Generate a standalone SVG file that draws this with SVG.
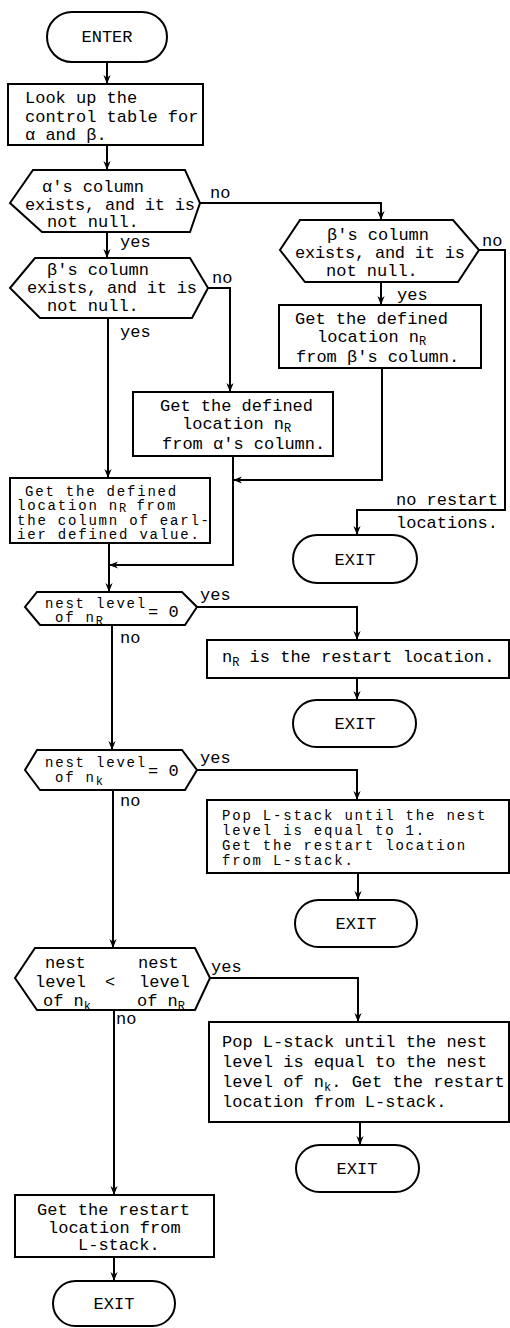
<svg xmlns="http://www.w3.org/2000/svg" width="510" height="1328" viewBox="0 0 510 1328">
<style>
.s{fill:#fff;stroke:#000;stroke-width:2}
.c{fill:none;stroke:#000;stroke-width:2}
text{font-family:"Liberation Mono","DejaVu Sans Mono",monospace;font-size:17px;fill:#000}
.m{text-anchor:middle}
.sub{font-size:12px;letter-spacing:0}
.t{font-size:14px;letter-spacing:1.8px}
</style>
<defs>
<marker id="a" viewBox="0 0 10 10" refX="10" refY="5" markerWidth="9" markerHeight="9" markerUnits="userSpaceOnUse" orient="auto">
<path d="M0,1 L10,5 L0,9 L3,5 Z" fill="#000"/>
</marker>
</defs>
<rect width="510" height="1328" fill="#fff"/>

<g id="connectors">
<path class="c" d="M107,62 V84" marker-end="url(#a)"/>
<path class="c" d="M107,145 V170" marker-end="url(#a)"/>
<path class="c" d="M107,232 V258" marker-end="url(#a)"/>
<path class="c" d="M200,203 H381 V220" marker-end="url(#a)"/>
<path class="c" d="M208,288 H230 V392" marker-end="url(#a)"/>
<path class="c" d="M108,318 V478" marker-end="url(#a)"/>
<path class="c" d="M381,282 V305" marker-end="url(#a)"/>
<path class="c" d="M479,250 H505 V510 H357 V535" marker-end="url(#a)"/>
<path class="c" d="M382,368 V480 H233" marker-end="url(#a)"/>
<path class="c" d="M233,456 V565 H109" marker-end="url(#a)"/>
<path class="c" d="M109,543 V592" marker-end="url(#a)"/>
<path class="c" d="M197,607 H357 V640" marker-end="url(#a)"/>
<path class="c" d="M357,678 V700" marker-end="url(#a)"/>
<path class="c" d="M112,625 V750" marker-end="url(#a)"/>
<path class="c" d="M197,770 H357 V800" marker-end="url(#a)"/>
<path class="c" d="M358,873 V900" marker-end="url(#a)"/>
<path class="c" d="M113,790 V948" marker-end="url(#a)"/>
<path class="c" d="M210,978 H358 V1022" marker-end="url(#a)"/>
<path class="c" d="M360,1122 V1145" marker-end="url(#a)"/>
<path class="c" d="M114,1010 V1195" marker-end="url(#a)"/>
<path class="c" d="M114,1257 V1281" marker-end="url(#a)"/>
<text x="120" y="247">yes</text>
<text x="210" y="198">no</text>
<text x="212" y="283">no</text>
<text x="120" y="337">yes</text>
<text x="397" y="300">yes</text>
<text x="482" y="246">no</text>
<text x="396" y="505">no restart</text>
<text x="396" y="528">locations.</text>
<text x="200" y="600">yes</text>
<text x="120" y="643">no</text>
<text x="200" y="763">yes</text>
<text x="120" y="806">no</text>
<text x="211" y="972">yes</text>
<text x="116" y="1024">no</text>
</g>

<g id="enter">
<rect class="s" x="47" y="12" width="120" height="50" rx="25"/>
<text class="m" x="107" y="42">ENTER</text>
</g>

<g id="lookup">
<rect class="s" x="8" y="84" width="195" height="61"/>
<text x="25" y="103">Look up the</text>
<text x="25" y="122">control table for</text>
<text x="25" y="140">α and β.</text>
</g>

<g id="alpha-check">
<polygon class="s" points="33,170 185,170 200,203 190,232 42,232 10,203"/>
<text x="42" y="192">α's column</text>
<text x="25" y="210" textLength="170">exists, and it is</text>
<text x="47" y="227">not null.</text>
</g>

<g id="beta-check-left">
<polygon class="s" points="35,258 190,258 208,288 192,318 40,318 10,288"/>
<text x="47" y="275">β's column</text>
<text x="27" y="293" textLength="170">exists, and it is</text>
<text x="47" y="311">not null.</text>
</g>

<g id="beta-check-right">
<polygon class="s" points="300,220 453,220 479,250 458,282 305,282 280,250"/>
<text x="327" y="240">β's column</text>
<text x="295" y="258" textLength="170">exists, and it is</text>
<text x="326" y="276">not null.</text>
</g>

<g id="beta-location">
<rect class="s" x="279" y="305" width="202" height="63"/>
<text x="295" y="324">Get the defined</text>
<text x="317" y="342">location n<tspan class="sub" dy="3">R</tspan></text>
<text x="296" y="362">from β's column.</text>
</g>

<g id="alpha-location">
<rect class="s" x="133" y="392" width="200" height="64"/>
<text x="160" y="411">Get the defined</text>
<text x="182" y="429">location n<tspan class="sub" dy="3">R</tspan></text>
<text x="162" y="449">from α's column.</text>
</g>

<g id="exit-norestart">
<rect class="s" x="293" y="535" width="124" height="48" rx="24"/>
<text class="m" x="355" y="565">EXIT</text>
</g>

<g id="earlier-location">
<rect class="s" x="10" y="478" width="200" height="65"/>
<text class="t" x="25" y="496">Get the defined</text>
<text class="t" x="17" y="510">location n<tspan class="sub" font-size="10" dy="2">R</tspan><tspan dy="-2"> from</tspan></text>
<text class="t" x="17" y="525">the column of earl-</text>
<text class="t" x="17" y="539">ier defined value.</text>
</g>

<g id="nest-nR-zero">
<polygon class="s" points="37,592 182,592 197,607 185,625 40,625 25,607"/>
<text class="t" x="45" y="608">nest level</text>
<text x="148" y="617">= 0</text>
<text class="t" x="55" y="622">of n<tspan class="sub" dy="3">R</tspan></text>
</g>

<g id="nR-restart">
<rect class="s" x="207" y="640" width="302" height="38"/>
<text x="222" y="662">n<tspan class="sub" dy="4">R</tspan><tspan dy="-4"> is the restart location.</tspan></text>
</g>

<g id="exit-nR">
<rect class="s" x="293" y="700" width="123" height="47" rx="23.5"/>
<text class="m" x="355" y="729">EXIT</text>
</g>

<g id="nest-nk-zero">
<polygon class="s" points="37,750 182,750 197,770 185,790 40,790 25,770"/>
<text class="t" x="45" y="767">nest level</text>
<text x="148" y="776">= 0</text>
<text class="t" x="55" y="782">of n<tspan class="sub" dy="3">k</tspan></text>
</g>

<g id="pop-to-1">
<rect class="s" x="207" y="800" width="302" height="73"/>
<text class="t" x="222" y="820">Pop L-stack until the nest</text>
<text class="t" x="222" y="835">level is equal to 1.</text>
<text class="t" x="222" y="850">Get the restart location</text>
<text class="t" x="222" y="865">from L-stack.</text>
</g>

<g id="exit-pop1">
<rect class="s" x="295" y="900" width="122" height="47" rx="23.5"/>
<text class="m" x="356" y="929">EXIT</text>
</g>

<g id="nest-compare">
<polygon class="s" points="35,948 195,948 210,978 195,1010 37,1010 15,978"/>
<text x="45" y="968">nest</text>
<text x="138" y="968">nest</text>
<text x="35" y="987">level</text>
<text x="105" y="987">&lt;</text>
<text x="139" y="987">level</text>
<text x="43" y="1006">of n<tspan class="sub" dy="4">k</tspan></text>
<text x="137" y="1006">of n<tspan class="sub" dy="4">R</tspan></text>
</g>

<g id="pop-to-nk">
<rect class="s" x="209" y="1022" width="300" height="100"/>
<text x="222" y="1047">Pop L-stack until the nest</text>
<text x="222" y="1067">level is equal to the nest</text>
<text x="222" y="1087">level of n<tspan class="sub" dy="4">k</tspan><tspan dy="-4">. Get the restart</tspan></text>
<text x="222" y="1107">location from L-stack.</text>
</g>

<g id="exit-pop2">
<rect class="s" x="296" y="1145" width="123" height="47" rx="23.5"/>
<text class="m" x="357" y="1174">EXIT</text>
</g>

<g id="final-restart">
<rect class="s" x="15" y="1195" width="199" height="62"/>
<text x="37" y="1215">Get the restart</text>
<text x="48" y="1233">location from</text>
<text x="78" y="1250">L-stack.</text>
</g>

<g id="exit-final">
<rect class="s" x="53" y="1281" width="122" height="45" rx="22.5"/>
<text class="m" x="114" y="1309">EXIT</text>
</g>
</svg>
